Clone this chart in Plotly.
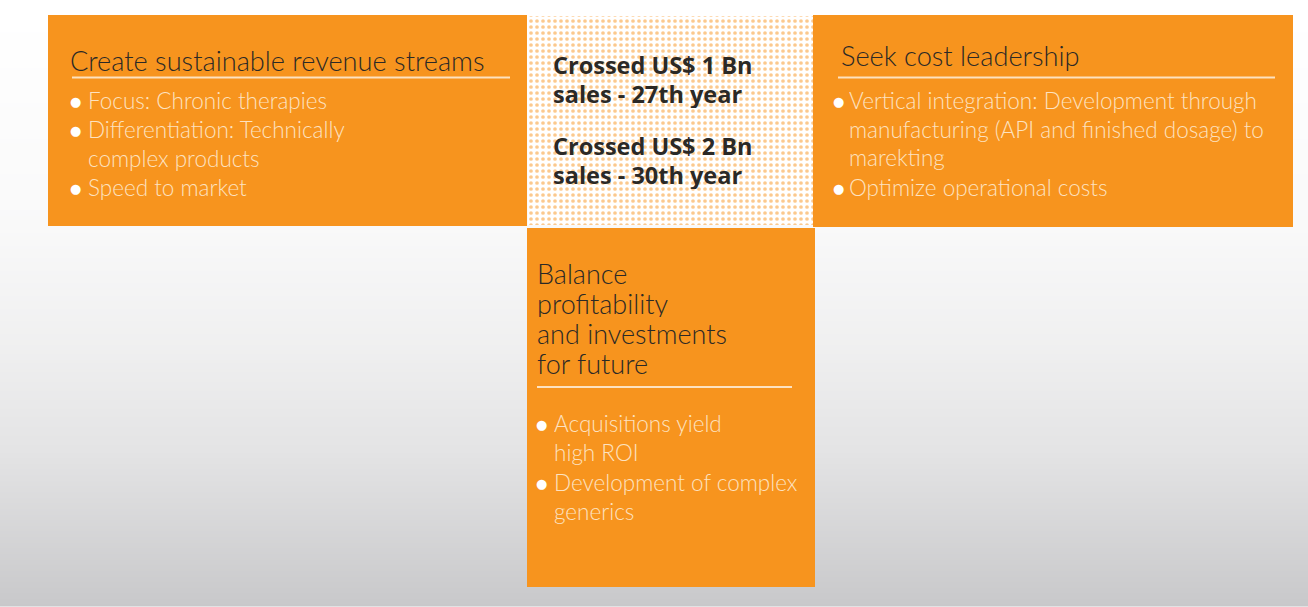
import plotly.graph_objects as go
import numpy as np

W, H = 1308, 607
ORANGE = "#F7941E"
DARK = "#2b2926"
PALE = "#fde2c0"

# ---- content ----
left_title = "Create sustainable revenue streams"
left_lines = [("●", "Focus: Chronic therapies"), ("●", "Differentiation: Technically"),
              ("", "complex products"), ("●", "Speed to market")]
right_title = "Seek cost leadership"
right_lines = [("●", "Vertical integration: Development through"),
               ("", "manufacturing (API and finished dosage) to"),
               ("", "marekting"), ("●", "Optimize operational costs")]
center_lines = ["Crossed US$ 1 Bn", "sales - 27th year", "Crossed US$ 2 Bn", "sales - 30th year"]
bottom_title = ["Balance", "profitability", "and investments", "for future"]
bottom_lines = [("●", "Acquisitions yield"), ("", "high ROI"),
                ("●", "Development of complex"), ("", "generics")]

# background gradient stops (y, grey level)
grad_y = [15, 227, 340, 450, 607]
grad_v = [255, 249, 240, 228, 200]

fig = go.Figure()

# gradient background via heatmap
ys = np.linspace(15, 607, 120)
zs = np.interp(ys, grad_y, grad_v)
fig.add_trace(go.Heatmap(x=[10, 1308], y=ys, z=np.column_stack([zs, zs]),
                         colorscale=[[0, "rgb(200,200,202)"], [1, "rgb(255,255,255)"]],
                         zmin=200, zmax=255, showscale=False, zsmooth="best", hoverinfo="skip"))

# dotted center box
fig.add_trace(go.Scatter(x=[528, 813, 813, 528, 528], y=[16, 16, 225, 225, 16], mode="lines",
                         line=dict(width=0), fill="toself", fillcolor="white",
                         fillpattern=dict(shape=".", fgcolor=ORANGE, bgcolor="white",
                                          size=6, solidity=0.3),
                         hoverinfo="skip", showlegend=False))

shapes = [
    dict(type="rect", x0=48, x1=527, y0=15, y1=226, fillcolor=ORANGE, line=dict(width=0)),
    dict(type="rect", x0=813, x1=1293, y0=15, y1=227, fillcolor=ORANGE, line=dict(width=0)),
    dict(type="rect", x0=527, x1=815, y0=228, y1=587, fillcolor=ORANGE, line=dict(width=0)),
    dict(type="line", x0=72, x1=510, y0=77.5, y1=77.5, line=dict(color=PALE, width=2)),
    dict(type="line", x0=838, x1=1275, y0=77.5, y1=77.5, line=dict(color=PALE, width=2)),
    dict(type="line", x0=537, x1=792, y0=387, y1=387, line=dict(color=PALE, width=2)),
]
fig.update_layout(shapes=shapes)

ann = []

def txt(x, y, s, size, color, weight=300, family="Lato", h=None):
    a = dict(x=x, y=y, text=s, xref="x", yref="y", xanchor="left", yanchor="middle",
             showarrow=False, font=dict(family=family, size=size, color=color, weight=weight))
    if h:
        a["height"] = h
    ann.append(a)

def bullet(x, y):
    ann.append(dict(x=x, y=y + 1, text="●", xref="x", yref="y", xanchor="center", yanchor="middle",
                    showarrow=False, font=dict(family="DejaVu Sans", size=13, color="white")))

TS = 27.2
BS = 22.5
txt(68, 60, left_title, TS, DARK)
for (b, s), y in zip(left_lines, [100, 129, 158, 187]):
    if b:
        bullet(75, y)
    txt(86, y, s, BS, PALE, h=27)

txt(839, 55, right_title, TS, DARK)
for (b, s), y in zip(right_lines, [100, 129, 157, 187]):
    if b:
        bullet(838, y)
    txt(847, y, s, BS, PALE, h=27)

for s, y in zip(center_lines, [65, 94, 146, 175]):
    txt(551, y, s, 23.5, DARK, weight=700, family="Open Sans", h=28)

for s, y in zip(bottom_title, [273, 303, 333, 363]):
    txt(535, y, s, 27, DARK, h=28)
for (b, s), y in zip(bottom_lines, [423, 452, 482, 511]):
    if b:
        bullet(541, y)
    txt(552, y, s, BS, PALE, h=27)

fig.update_layout(annotations=ann, width=W, height=H, margin=dict(l=0, r=0, t=0, b=0),
                  paper_bgcolor="white", plot_bgcolor="white", showlegend=False,
                  xaxis=dict(range=[0, W], visible=False, fixedrange=True),
                  yaxis=dict(range=[H, 0], visible=False, fixedrange=True))
fig.write_html("out.html", config={"displayModeBar": False},
               post_script="document.body.style.margin='0';document.body.style.overflow='hidden';")
